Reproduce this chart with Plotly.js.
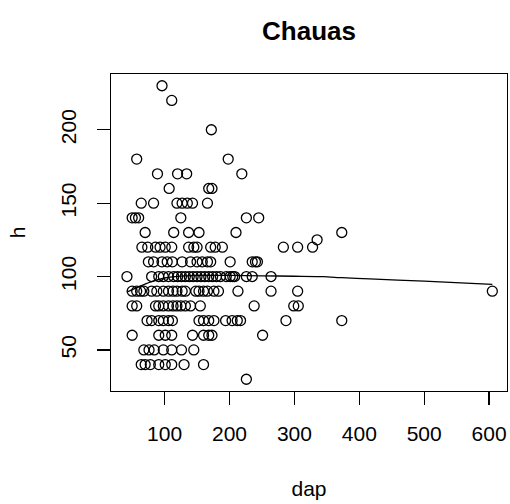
<!DOCTYPE html>
<html>
<head>
<meta charset="utf-8">
<script src="https://cdn.plot.ly/plotly-3.0.1.min.js"></script>
<style>html,body{margin:0;padding:0;background:#fff;}#chart{width:510px;height:504px;}</style>
</head>
<body>
<div id="chart"></div>
<script>
// Heights (h) read per row, with the dap value of every point in that row
const h230 = [96];
const h220 = [111];
const h200 = [172];
const h180 = [57, 198];
const h170 = [89, 120, 134, 219];
const h160 = [107, 168, 173];
const h150 = [64, 83, 119, 127, 135, 143, 166];
const h140 = [50, 55, 60, 125, 226, 245];
const h130 = [70, 114, 137, 153, 210, 373];
const h125 = [335];
const h120 = [65, 74, 86, 93, 101, 111, 137, 145, 150, 171, 178, 189, 283, 305, 328];
const h110 = [75, 83, 96, 104, 112, 127, 140, 150, 158, 166, 171, 201, 235, 240, 243];
const h100 = [42, 80, 91, 98, 106, 114, 120, 126, 132, 138, 144, 150, 156, 162, 168, 174, 180, 186, 195, 201, 205, 208, 226, 235, 264];
const h90 = [50, 57, 63, 68, 80, 88, 98, 106, 113, 119, 127, 132, 148, 153, 160, 166, 176, 183, 213, 264, 305, 605];
const h80 = [50, 57, 86, 91, 98, 106, 113, 119, 125, 132, 140, 155, 238, 299, 306];
const h70 = [73, 80, 91, 98, 106, 112, 153, 160, 168, 176, 194, 204, 212, 217, 287, 373];
const h60 = [50, 91, 101, 111, 143, 160, 168, 173, 251];
const h50 = [68, 76, 84, 98, 111, 126, 145];
const h40 = [64, 70, 78, 91, 101, 111, 130, 160];
const h30 = [226];

const rowLevels = [230, 220, 200, 180, 170, 160, 150, 140, 130, 125, 120, 110, 100, 90, 80, 70, 60, 50, 40, 30];
const rowDaps = [h230, h220, h200, h180, h170, h160, h150, h140, h130, h125, h120, h110, h100, h90, h80, h70, h60, h50, h40, h30];

// Smoothed trend line
const fitDap = [42, 60, 80, 100, 130, 160, 200, 250, 300, 345, 373, 416, 500, 605];
const fitH = [89.4, 93.0, 96.5, 99.0, 100.4, 100.8, 100.8, 100.5, 100.2, 99.9, 99.2, 98.4, 96.8, 94.7];

const xTicks = [100, 200, 300, 400, 500, 600];
const yTicks = [50, 100, 150, 200];

const dap = [], h = [];
rowLevels.forEach((lv, i) => rowDaps[i].forEach(d => { dap.push(d); h.push(lv); }));

const font = 'Liberation Sans, Arial, Helvetica, sans-serif';

const traces = [
  {
    type: 'scatter', mode: 'markers', x: dap, y: h,
    marker: {symbol: 'circle-open', size: 10, color: '#000', line: {color: '#000', width: 1.3}},
    hoverinfo: 'x+y', showlegend: false
  },
  {
    type: 'scatter', mode: 'lines', x: fitDap, y: fitH,
    line: {color: '#000', width: 1.3, shape: 'spline', smoothing: 0.6},
    hoverinfo: 'skip', showlegend: false
  }
];

const layout = {
  width: 510, height: 504,
  margin: {l: 111, r: 3, t: 74, b: 113},
  paper_bgcolor: '#fff', plot_bgcolor: '#fff',
  font: {family: font, color: '#000', size: 21},
  title: {
    text: 'Chauas', font: {family: font, size: 26, color: '#000', weight: 'bold'},
    x: 0.606, xanchor: 'center', xref: 'container',
    y: 0.938, yanchor: 'middle', yref: 'container'
  },
  xaxis: {
    range: [17.4, 627.6], tickvals: xTicks, ticktext: xTicks.map(String),
    ticks: 'outside', ticklen: 13, tickwidth: 1.3, tickcolor: '#000',
    showline: true, mirror: true, linecolor: '#000', linewidth: 1.3,
    showgrid: false, zeroline: false, ticklabelstandoff: 10,
    tickfont: {family: font, size: 21, color: '#000'},
    title: {text: 'dap', font: {family: font, size: 21, color: '#000'}, standoff: 37}
  },
  yaxis: {
    range: [22, 238], tickvals: yTicks, ticktext: yTicks.map(String),
    ticks: 'outside', ticklen: 13, tickwidth: 1.3, tickcolor: '#000',
    showline: true, mirror: true, linecolor: '#000', linewidth: 1.3,
    showgrid: false, zeroline: false, tickangle: -90, ticklabelstandoff: 12,
    tickfont: {family: font, size: 21, color: '#000'},
    title: {text: 'h', font: {family: font, size: 21, color: '#000'}, standoff: 26}
  }
};

Plotly.newPlot('chart', traces, layout, {staticPlot: true, displayModeBar: false});
</script>
</body>
</html>
